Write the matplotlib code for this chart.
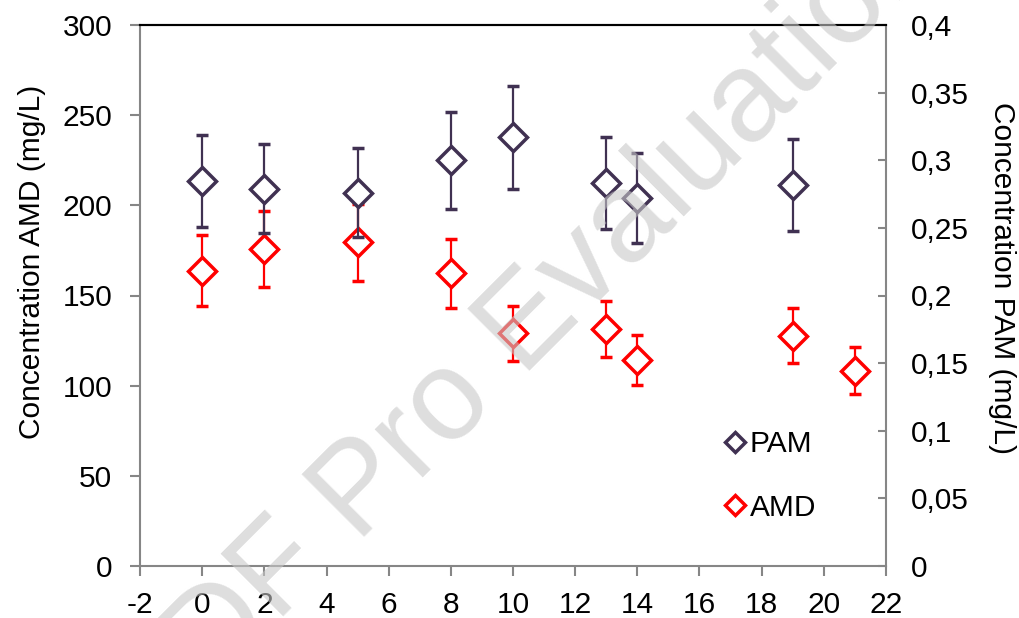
import matplotlib
matplotlib.use("Agg")
import matplotlib.pyplot as plt
from matplotlib.lines import Line2D

plt.rcParams['font.family'] = ['Liberation Sans', 'DejaVu Sans']
plt.rcParams['axes.unicode_minus'] = False

# data
amd_days = [0, 2, 5, 8, 10, 13, 14, 19, 21]
amd = [163.8, 175.8, 179.5, 162.3, 129.0, 131.4, 114.2, 127.7, 108.3]
amd_err = [19.5, 21.0, 21.5, 19.2, 15.4, 15.7, 13.8, 15.2, 13.0]

pam_days = [0, 2, 5, 8, 10, 13, 14, 19]
pam = [0.285, 0.279, 0.276, 0.300, 0.317, 0.283, 0.272, 0.282]
pam_err = [0.034, 0.033, 0.033, 0.036, 0.038, 0.034, 0.033, 0.034]

x_ticks = list(range(-2, 23, 2))
left_ticks = [0, 50, 100, 150, 200, 250, 300]
right_ticks = [0, 0.05, 0.1, 0.15, 0.2, 0.25, 0.3, 0.35, 0.4]
right_labels = ['0', '0,05', '0,1', '0,15', '0,2', '0,25', '0,3', '0,35', '0,4']

pam_color = '#403152'
amd_color = '#ff0000'
axis_gray = '#868686'
fs = 21.5

fig = plt.figure(figsize=(10.2, 6.18), dpi=100)
ax = fig.add_axes([140 / 1020, 52 / 618, 746 / 1020, 541 / 618])
ax2 = ax.twinx()

ax.errorbar(amd_days, amd, yerr=amd_err, fmt='D', ms=14, mfc='white',
            mec=amd_color, mew=2.5, ecolor=amd_color, elinewidth=1.6,
            capsize=4.5, capthick=1.6, clip_on=False)
ax2.errorbar(pam_days, pam, yerr=pam_err, fmt='D', ms=14, mfc='white',
             mec=pam_color, mew=2.5, ecolor=pam_color, elinewidth=1.6,
             capsize=4.5, capthick=1.6, clip_on=False)

ax.set_xlim(-2, 22)
ax.set_ylim(0, 300)
ax2.set_ylim(0, 0.4)
ax.set_xticks(x_ticks)
ax.set_yticks(left_ticks)
ax2.set_yticks(right_ticks)
ax2.set_yticklabels(right_labels)

for a in (ax, ax2):
    for s in a.spines.values():
        s.set_color(axis_gray)
        s.set_linewidth(1.5)
    a.spines['top'].set_color('black')
ax.spines['right'].set_visible(False)
ax2.spines['left'].set_visible(False)
ax2.spines['bottom'].set_visible(False)

ax.tick_params(axis='both', labelsize=fs, color=axis_gray, width=1.5,
               length=7, direction='out')
ax.tick_params(axis='y', pad=13)
ax.tick_params(axis='x', pad=11)
ax2.tick_params(axis='y', labelsize=fs, color=axis_gray, width=1.5,
                length=6, direction='in', pad=18)

fig.text(32 / 1020, 1 - 262 / 618, 'Concentration AMD (mg/L)', fontsize=fs,
         rotation=90, ha='center', va='center')
fig.text(1002 / 1020, 1 - 278 / 618, 'Concentration PAM (mg/L)', fontsize=fs,
         rotation=270, ha='center', va='center')

handles = [Line2D([], [], ls='none', marker='D', ms=10, mfc='white',
                  mec=pam_color, mew=2.5),
           Line2D([], [], ls='none', marker='D', ms=10, mfc='white',
                  mec=amd_color, mew=2.5)]
fig.legend(handles, ['PAM', 'AMD'], loc='center left',
           bbox_to_anchor=(711 / 1020, 1 - 476 / 618), frameon=False,
           fontsize=fs, handlelength=0.8, handletextpad=0.1,
           labelspacing=1.2, borderaxespad=0)

# evaluation watermark on top of the plot
fig.text(548 / 1020, 1 - 353 / 618, 'PDF Pro Evaluation', fontsize=92,
         color='#c8c8c8', alpha=0.6, rotation=45, rotation_mode='anchor',
         ha='center', va='baseline', zorder=10)

fig.savefig('out.png', dpi=100)
